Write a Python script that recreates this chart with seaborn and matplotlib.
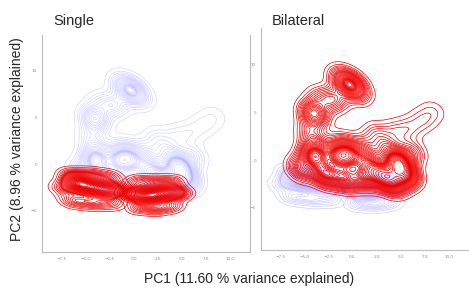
import matplotlib.pyplot as plt
import seaborn as sns

# Constants
RED = "#ee0000"
BLUE = "#5a5aff"
SPINE_COLOR = "#bbbbbb"
TICK_COLOR = "#888888"
X_LIM = (-9.5, 12.1)
Y_LIM = (-9.4, 13.8)
X_TICKS = [-7.5, -5.0, -2.5, 0.0, 2.5, 5.0, 7.5, 10.0]
Y_TICKS = [-5, 0, 5, 10]

panel_titles = ["Single", "Bilateral"]
x_label = "PC1 (11.60 % variance explained)"
y_label = "PC2 (8.96 % variance explained)"

# lower strip, left blob (PC1, PC2, weight)
low_left_x = [-5.6, -3.0, -4.3, -6.3, -4.4, -2.5, -6.2, -4.3, -2.4, -7.2, -1.5]
low_left_y = [-2.1, -2.7, -2.5, -1.2, -1.2, -1.4, -3.9, -4.1, -4.1, -2.6, -2.8]
low_left_w = [3.0, 2.2, 1.5, 0.6, 0.6, 0.5, 0.6, 0.6, 0.5, 0.5, 0.5]

# lower strip, right blob
low_right_x = [1.6, 2.9, 0.4, 4.0, 0.4, 2.2, 4.0, 0.6, 2.3, 3.9, -0.5, 5.0]
low_right_y = [-3.4, -3.1, -3.2, -3.0, -1.9, -1.9, -1.9, -4.6, -4.7, -4.5, -3.0, -3.2]
low_right_w = [3.0, 2.2, 1.0, 1.0, 0.5, 0.6, 0.5, 0.5, 0.6, 0.5, 0.4, 0.4]

# upper cluster: two lobes on top, tail to the right, wide body
high_x = [-0.3, -4.0, -2.0, -1.3, 0.7, -3.5, -4.3,
          -4.5, 2.5, 4.5, 6.0, 7.3, 8.4,
          -4.0, -1.4, -0.2, 1.7, 4.7,
          -5.3, -2.8, -0.8, 1.2, 3.2, 5.5, 4.2, -3.5, -1.0, 1.2, 3.5, 6.2]
high_y = [7.9, 4.9, 6.3, 8.8, 7.0, 6.5, 3.6,
          2.6, 2.8, 3.0, 3.4, 4.2, 5.1,
          0.4, 0.3, 0.6, -0.2, -0.2,
          -0.9, -1.5, -1.9, -1.8, -1.6, -1.6, -2.5, 1.5, 1.7, 1.5, 1.4, 0.8]
high_w = [1.8, 1.5, 0.8, 0.5, 0.5, 0.4, 0.3,
          0.4, 0.4, 0.35, 0.3, 0.3, 0.25,
          2.0, 1.8, 1.3, 1.3, 2.5,
          1.0, 1.8, 1.5, 1.5, 2.0, 1.8, 1.2, 0.6, 0.6, 0.5, 0.6, 0.6]


def style_axes(ax):
    ax.set_xlim(*X_LIM)
    ax.set_ylim(*Y_LIM)
    ax.set_xticks(X_TICKS)
    ax.set_yticks(Y_TICKS)
    ax.set_xlabel("")
    ax.set_ylabel("")
    ax.tick_params(labelsize=3, colors=TICK_COLOR, length=2, width=0.5, pad=1.5)
    for side in ["left", "bottom", "right"]:
        ax.spines[side].set_color(SPINE_COLOR)
        ax.spines[side].set_linewidth(0.8)
    ax.spines["top"].set_visible(False)
    ax.spines["right"].set_visible(False)


def draw_kde(ax, xs, ys, ws, color, bw, alpha, levels):
    sns.kdeplot(
        x=xs,
        y=ys,
        weights=ws,
        bw_method=bw,
        levels=levels,
        thresh=0.025,
        color=color,
        linewidths=0.5,
        alpha=alpha,
        ax=ax,
    )


def draw_low(ax, color, alpha, levels):
    draw_kde(ax, low_left_x, low_left_y, low_left_w, color, 0.6, alpha, levels)
    draw_kde(ax, low_right_x, low_right_y, low_right_w, color, 0.6, alpha, levels)


sns.set_style("white")
fig = plt.figure(figsize=(4.69, 2.89), dpi=100)
ax_single = fig.add_axes([0.0896, 0.128, 0.4435, 0.751])
ax_bilat = fig.add_axes([0.5565, 0.135, 0.4435, 0.768])

# Single: upper cluster faint blue, lower strip red
draw_kde(ax_single, high_x, high_y, high_w, BLUE, 0.27, 0.25, 26)
draw_low(ax_single, RED, 1.0, 36)
style_axes(ax_single)
ax_single.spines["right"].set_visible(True)

# Bilateral: lower strip faint blue, upper cluster red
draw_low(ax_bilat, BLUE, 0.3, 26)
draw_kde(ax_bilat, high_x, high_y, high_w, RED, 0.27, 1.0, 36)
style_axes(ax_bilat)

fig.text(53 / 469, 1 - 21 / 289, panel_titles[0], ha="left", va="center", fontsize=10.5,
         family="Liberation Sans")
fig.text(272 / 469, 1 - 21 / 289, panel_titles[1], ha="left", va="center", fontsize=10.5,
         family="Liberation Sans")
fig.text(0.53, 0.035, x_label, ha="center", va="center", fontsize=10, family="Liberation Sans")
fig.text(0.036, 0.52, y_label, ha="center", va="center", rotation=90, fontsize=10,
         family="Liberation Sans")

plt.savefig("out.png", dpi=100)
